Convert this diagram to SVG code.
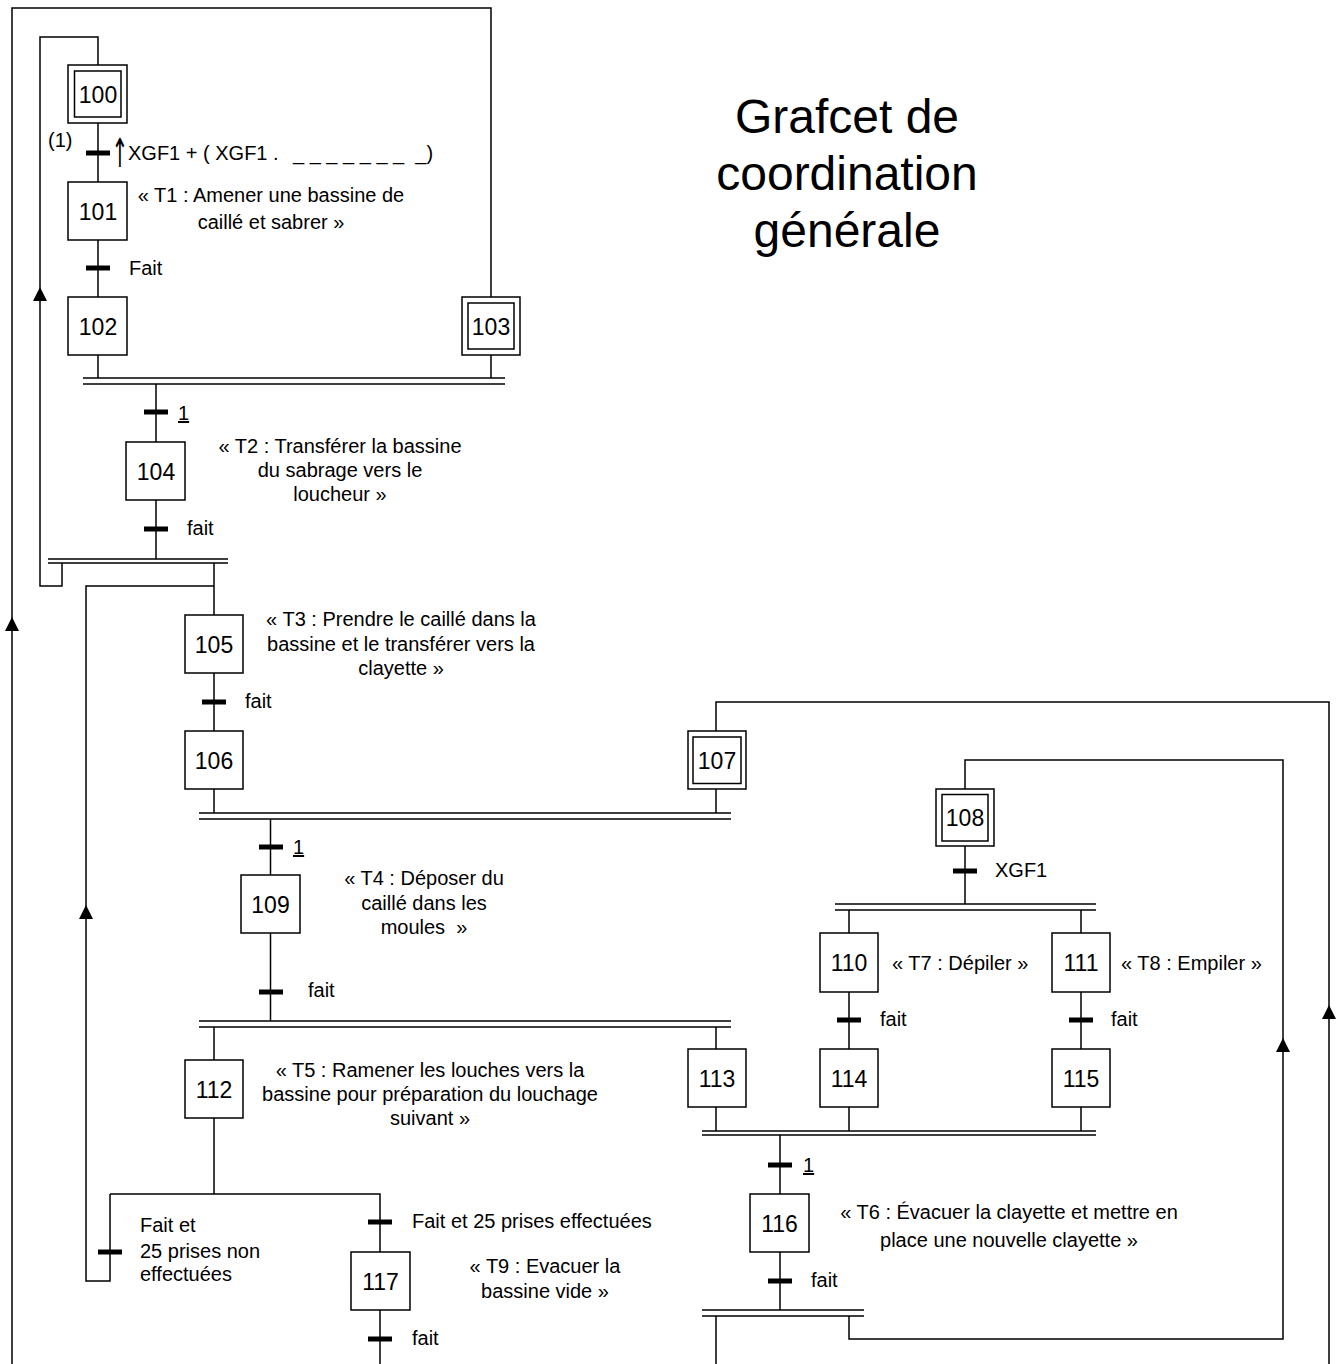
<svg xmlns="http://www.w3.org/2000/svg" xmlns:xlink="http://www.w3.org/1999/xlink" width="1337" height="1364" viewBox="0 0 1337 1364">
<style>
.ln{stroke:#000;stroke-width:1.5;fill:none}
.db{stroke:#000;stroke-width:1.6;fill:none}
.tr{stroke:#000;stroke-width:5;fill:none}
.box{fill:#fff;stroke:#000;stroke-width:1.5}
.num{font-family:"Liberation Sans",Arial,sans-serif;font-size:23px;text-anchor:middle;fill:#000}
.lbl{font-family:"Liberation Sans",Arial,sans-serif;font-size:20px;fill:#000}
.c{text-anchor:middle}
.arr{font-family:"DejaVu Sans",sans-serif;font-size:20px;text-anchor:middle;fill:#000}
.title{font-family:"Liberation Sans",Arial,sans-serif;font-size:48px;text-anchor:middle;fill:#000}
</style>
<defs>
<path id="ah" d="M0,0 L7,14 L-7,14 Z" fill="#000"/>
</defs>
<rect width="1337" height="1364" fill="#fff"/>

<g id="connectors">
  <path class="ln" d="M12,1364 V8 H491 V297"/>
  <use xlink:href="#ah" x="12" y="617"/>
  <path class="ln" d="M62,563 V586 H40 V37 H98 V65"/>
  <use xlink:href="#ah" x="40" y="287"/>
  <path class="ln" d="M98,123 V182"/>
  <path class="tr" d="M86,153 H110"/>
  <path class="ln" d="M98,240 V297"/>
  <path class="tr" d="M86,268 H110"/>
  <path class="ln" d="M98,355 V378 M491,355 V378"/>
  <path class="db" d="M83,378 H505 M83,384 H505"/>
  <path class="ln" d="M156,384 V442"/>
  <path class="tr" d="M144,412 H168"/>
  <path class="ln" d="M156,500 V559"/>
  <path class="tr" d="M144,529 H168"/>
  <path class="db" d="M48,559 H228 M48,563 H228"/>
  <path class="ln" d="M214,563 V615"/>
  <path class="ln" d="M214,586 H86 V1281 H110 V1194"/>
  <use xlink:href="#ah" x="86" y="905"/>
  <path class="ln" d="M214,673 V731"/>
  <path class="tr" d="M202,702 H226"/>
  <path class="ln" d="M214,789 V813 M716,789 V813"/>
  <path class="db" d="M199,813 H731 M199,819 H731"/>
  <path class="ln" d="M270.5,819 V875"/>
  <path class="tr" d="M259,847 H283"/>
  <path class="ln" d="M270.5,933 V1021"/>
  <path class="tr" d="M259,992 H283"/>
  <path class="db" d="M199,1021 H731 M199,1027 H731"/>
  <path class="ln" d="M214,1027 V1060 M716,1027 V1049"/>
  <path class="ln" d="M214,1118 V1194 M110,1194 H380 V1252"/>
  <path class="tr" d="M98,1252 H122"/>
  <path class="tr" d="M368,1222 H392"/>
  <path class="ln" d="M380,1310 V1364"/>
  <path class="tr" d="M368,1339 H392"/>
  <path class="ln" d="M716,731 V702 H1329 V1364"/>
  <use xlink:href="#ah" x="1329" y="1005"/>
  <path class="ln" d="M849,1316 V1339 H1283 V760 H965 V789"/>
  <use xlink:href="#ah" x="1283" y="1038"/>
  <path class="ln" d="M965,846 V904"/>
  <path class="tr" d="M953,871 H977"/>
  <path class="db" d="M835,904 H1096 M835,910 H1096"/>
  <path class="ln" d="M849,910 V933 M1081,910 V933"/>
  <path class="ln" d="M849,992 V1049 M1081,992 V1049"/>
  <path class="tr" d="M837,1020 H861 M1069,1020 H1093"/>
  <path class="ln" d="M716,1107 V1131 M849,1107 V1131 M1081,1107 V1131"/>
  <path class="db" d="M702,1131 H1096 M702,1135 H1096"/>
  <path class="ln" d="M780,1135 V1194"/>
  <path class="tr" d="M768,1165 H792"/>
  <path class="ln" d="M780,1252 V1310"/>
  <path class="tr" d="M768,1281 H792"/>
  <path class="db" d="M702,1310 H864 M702,1316 H864"/>
  <path class="ln" d="M716,1316 V1364"/>
</g>

<g id="step100"><rect class="box" x="68" y="65" width="59" height="58"/><rect class="box" x="74.5" y="71" width="46.5" height="46"/><text class="num" x="98" y="102.5">100</text></g>
<g id="step101"><rect class="box" x="68" y="182" width="59" height="58"/><text class="num" x="98" y="219.5">101</text></g>
<g id="step102"><rect class="box" x="68" y="297" width="59" height="58"/><text class="num" x="98" y="334.5">102</text></g>
<g id="step103"><rect class="box" x="462" y="297" width="58" height="58"/><rect class="box" x="468" y="303" width="46" height="46"/><text class="num" x="491" y="334.5">103</text></g>
<g id="step104"><rect class="box" x="126" y="442" width="59" height="58"/><text class="num" x="156" y="479.5">104</text></g>
<g id="step105"><rect class="box" x="185" y="615" width="58" height="58"/><text class="num" x="214" y="652.5">105</text></g>
<g id="step106"><rect class="box" x="185" y="731" width="58" height="58"/><text class="num" x="214" y="768.5">106</text></g>
<g id="step107"><rect class="box" x="688" y="731" width="58" height="58"/><rect class="box" x="693" y="737" width="48" height="46.5"/><text class="num" x="717" y="768.5">107</text></g>
<g id="step108"><rect class="box" x="936" y="789" width="58" height="57"/><rect class="box" x="942" y="794.5" width="46" height="46.5"/><text class="num" x="965" y="826">108</text></g>
<g id="step109"><rect class="box" x="241" y="875" width="59" height="58"/><text class="num" x="270.5" y="912.5">109</text></g>
<g id="step110"><rect class="box" x="820" y="933" width="58" height="59"/><text class="num" x="849" y="971">110</text></g>
<g id="step111"><rect class="box" x="1052" y="933" width="58" height="59"/><text class="num" x="1081" y="971">111</text></g>
<g id="step112"><rect class="box" x="185" y="1060" width="58" height="58"/><text class="num" x="214" y="1097.5">112</text></g>
<g id="step113"><rect class="box" x="688" y="1049" width="58" height="58"/><text class="num" x="717" y="1086.5">113</text></g>
<g id="step114"><rect class="box" x="820" y="1049" width="58" height="58"/><text class="num" x="849" y="1086.5">114</text></g>
<g id="step115"><rect class="box" x="1052" y="1049" width="58" height="58"/><text class="num" x="1081" y="1086.5">115</text></g>
<g id="step116"><rect class="box" x="750" y="1194" width="59" height="58"/><text class="num" x="779.5" y="1231.5">116</text></g>
<g id="step117"><rect class="box" x="351" y="1252" width="59" height="58"/><text class="num" x="380.5" y="1289.5">117</text></g>

<g id="labels">
  <text class="lbl" x="48" y="147">(1)</text>
  <text class="arr" x="120" y="0" transform="translate(0,167) scale(1,2)">↑</text>
  <text class="lbl" x="128" y="160">XGF1 + ( XGF1 .</text>
  <text class="lbl" x="293" y="160" xml:space="preserve">_ _ _ _ _ _ _  _)</text>
  <text class="lbl c" x="271" y="202">« T1 : Amener une bassine de</text>
  <text class="lbl c" x="271" y="229">caillé et sabrer »</text>
  <text class="lbl" x="129" y="275">Fait</text>
  <text class="lbl" x="178" y="420" text-decoration="underline">1</text>
  <text class="lbl c" x="340" y="453">« T2 : Transférer la bassine</text>
  <text class="lbl c" x="340" y="477">du sabrage vers le</text>
  <text class="lbl c" x="340" y="501">loucheur »</text>
  <text class="lbl" x="187" y="535">fait</text>
  <text class="lbl c" x="401" y="626">« T3 : Prendre le caillé dans la</text>
  <text class="lbl c" x="401" y="651">bassine et le transférer vers la</text>
  <text class="lbl c" x="401" y="675">clayette »</text>
  <text class="lbl" x="245" y="708">fait</text>
  <text class="lbl" x="293" y="854" text-decoration="underline">1</text>
  <text class="lbl c" x="424" y="885">« T4 : Déposer du</text>
  <text class="lbl c" x="424" y="910">caillé dans les</text>
  <text class="lbl c" x="424" y="934" xml:space="preserve">moules  »</text>
  <text class="lbl" x="308" y="997">fait</text>
  <text class="lbl c" x="430" y="1077">« T5 : Ramener les louches vers la</text>
  <text class="lbl c" x="430" y="1101">bassine pour préparation du louchage</text>
  <text class="lbl c" x="430" y="1125">suivant »</text>
  <text class="lbl" x="140" y="1232">Fait et</text>
  <text class="lbl" x="140" y="1258">25 prises non</text>
  <text class="lbl" x="140" y="1281">effectuées</text>
  <text class="lbl" x="412" y="1228">Fait et 25 prises effectuées</text>
  <text class="lbl c" x="545" y="1273">« T9 : Evacuer la</text>
  <text class="lbl c" x="545" y="1298">bassine vide »</text>
  <text class="lbl" x="412" y="1345">fait</text>
  <text class="lbl" x="995" y="877">XGF1</text>
  <text class="lbl" x="892" y="970">« T7 : Dépiler »</text>
  <text class="lbl" x="1121" y="970">« T8 : Empiler »</text>
  <text class="lbl" x="880" y="1026">fait</text>
  <text class="lbl" x="1111" y="1026">fait</text>
  <text class="lbl" x="803" y="1172" text-decoration="underline">1</text>
  <text class="lbl c" x="1009" y="1219">« T6 : Évacuer la clayette et mettre en</text>
  <text class="lbl c" x="1009" y="1247">place une nouvelle clayette »</text>
  <text class="lbl" x="811" y="1287">fait</text>
</g>

<g id="title">
  <text class="title" x="847" y="133">Grafcet de</text>
  <text class="title" x="847" y="190">coordination</text>
  <text class="title" x="847" y="247">générale</text>
</g>
</svg>
